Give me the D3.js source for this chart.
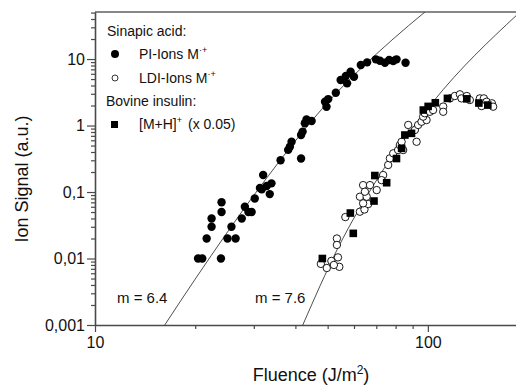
<!DOCTYPE html>
<html>
<head>
<meta charset="utf-8">
<script src="https://cdn.jsdelivr.net/npm/d3@7"></script>
<style>
  body { margin: 0; background: #fff; }
  text { font-family: "Liberation Sans", Arial, sans-serif; fill: #111; }
</style>
</head>
<body>
<script>
// Sinapic acid, PI-Ions M·+ (filled circles)
const piFluence = [20.4, 21.0, 23.9, 21.65, 22.4, 22.4, 24.0, 24.0, 25.0, 26.45,
  25.7, 27.6, 28.2, 28.9, 29.55, 30.2, 31.3, 32.0, 31.7, 32.8,
  33.9, 33.5, 36.1, 41.6, 38.05, 38.5, 38.96, 41.6, 42.05, 42.7,
  43.2, 44.75, 49.1, 50.2, 49.6, 52.9, 54.7, 56.7, 58.6, 60.0,
  57.2, 62.9, 65.7, 69.8, 71.8, 74.3, 76.5, 78.7, 80.5, 85.7];
const piSignal = [0.01, 0.01, 0.01, 0.02, 0.03, 0.04, 0.05, 0.07, 0.02, 0.02,
  0.03, 0.04, 0.06, 0.05, 0.05, 0.08, 0.115, 0.18, 0.11, 0.123,
  0.135, 0.093, 0.30, 0.32, 0.43, 0.48, 0.57, 0.72, 0.81, 1.08,
  1.23, 1.17, 2.28, 2.5, 1.92, 3.11, 4.83, 5.55, 6.44, 5.42,
  4.31, 8.12, 8.92, 9.9, 9.43, 8.8, 9.66, 9.33, 9.9, 8.8];

// Sinapic acid, LDI-Ions M·+ (open circles)
const ldiFluence = [47.7, 49.7, 51.3, 53.7, 54.2, 52.2, 53.3, 53.3, 56.5, 62.5,
  64.5, 66.2, 63.9, 62.5, 65.5, 63.9, 67.0, 70.2, 73.4, 72.6,
  76.0, 76.9, 78.7, 81.4, 84.3, 82.4, 83.4, 92.5, 87.3, 91.4,
  93.5, 95.7, 99.1, 96.8, 97.9, 101.4, 103.7, 111.2, 111.2, 116.5,
  120.5, 124.8, 126.2, 130.9, 133.7, 143.3, 147.3, 150.1, 145.0, 155.7,
  157.1, 64.7];
const ldiSignal = [0.0083, 0.0072, 0.0092, 0.0104, 0.0075, 0.008, 0.02, 0.016, 0.042, 0.0506,
  0.0546, 0.066, 0.0676, 0.085, 0.085, 0.127, 0.127, 0.107, 0.18, 0.151,
  0.255, 0.321, 0.382, 0.428, 0.428, 0.509, 0.57, 0.57, 1.02, 0.856,
  1.02, 1.14, 1.21, 1.36, 1.53, 1.61, 1.71, 1.93, 1.61, 2.56,
  2.78, 2.95, 2.56, 2.78, 2.42, 2.56, 2.56, 2.28, 1.96, 2.16,
  1.92, 0.101];

// Bovine insulin [M+H]+ x 0.05 (filled squares)
const insFluence = [48.2, 58.5, 59.7, 68.9, 69.3, 75.2, 80.5, 83.4, 85.3, 89.3,
  96.9, 100.2, 105.3, 114.5, 130.9, 142.3, 151.4];
const insSignal = [0.01, 0.0483, 0.0239, 0.0732, 0.177, 0.138, 0.319, 0.454, 0.72, 0.763,
  1.71, 1.94, 2.2, 2.56, 2.52, 2.18, 2.03];

// fit curves, points
const fitA = [[16.2, 0.001], [20, 0.0049], [31.3, 0.119], [50.8, 2.42], [78, 19.3], [98, 51]];
const fitB = [[42.1, 0.001], [53.7, 0.0144], [70.8, 0.1625], [103.5, 2.25], [185, 45.9]];
const fitLabels = ["m = 6.4", "m = 7.6"];

const yMajor = [0.001, 0.01, 0.1, 1, 10];
const yTickLabels = ["0,001", "0,01", "0,1", "1", "10"];
const xMajor = [10, 100];
const xTickLabels = ["10", "100"];

const width = 516, height = 385;
const pLeft = 95, pTop = 12, pBottom = 325, pRight = 516;

const svg = d3.select("body").append("svg")
    .attr("width", width)
    .attr("height", height);

const x = d3.scaleLog().domain([10, 184]).range([pLeft, pRight]);
const y = d3.scaleLog().domain([0.001, 51]).range([pBottom, pTop]);

// minor tick positions
const yMinor = [];
[0.001, 0.01, 0.1, 1, 10].forEach(dec => {
    for (let k = 2; k <= 9; k++) if (dec * k <= 51) yMinor.push(dec * k);
});
const xMinor = [20, 30, 40, 50, 60, 70, 80, 90];

// axes
const axisColor = "#4a4a4a";

svg.append("g")
    .attr("transform", `translate(${pLeft},0)`)
    .call(d3.axisLeft(y).tickValues(yMajor)
        .tickFormat((d, i) => yTickLabels[i])
        .tickSizeInner(8).tickSizeOuter(0).tickPadding(2));
svg.append("g")
    .attr("transform", `translate(${pLeft},0)`)
    .call(d3.axisLeft(y).tickValues(yMinor).tickFormat("").tickSize(4))
    .select(".domain").remove();

svg.append("g")
    .attr("transform", `translate(0,${pBottom})`)
    .call(d3.axisBottom(x).tickValues(xMajor)
        .tickFormat((d, i) => xTickLabels[i])
        .tickSizeInner(7).tickSizeOuter(0).tickPadding(5));
svg.append("g")
    .attr("transform", `translate(0,${pBottom})`)
    .call(d3.axisBottom(x).tickValues(xMinor).tickFormat("").tickSize(4))
    .select(".domain").remove();

svg.selectAll(".domain").attr("stroke", axisColor).attr("stroke-width", 1.6);
svg.selectAll(".tick line").attr("stroke", axisColor).attr("stroke-width", 1.2);
svg.selectAll(".tick text")
    .attr("font-size", 16)
    .attr("fill", "#111")
    .attr("font-family", "'Liberation Sans', Arial, sans-serif");

// top frame line
svg.append("line")
    .attr("x1", pLeft).attr("x2", pRight)
    .attr("y1", pTop).attr("y2", pTop)
    .attr("stroke", "#111")
    .attr("stroke-width", 1.2);

// axis titles
svg.append("text")
    .attr("transform", "translate(28,179) rotate(-90)")
    .attr("text-anchor", "middle")
    .attr("font-size", 18)
    .text("Ion Signal (a.u.)");

const xt = svg.append("text")
    .attr("x", 311).attr("y", 381)
    .attr("text-anchor", "middle")
    .attr("font-size", 18);
xt.append("tspan").text("Fluence (J/m");
xt.append("tspan").attr("font-size", 12).attr("dy", -7).text("2");
xt.append("tspan").attr("dy", 7).text(")");

// clip for fit lines
svg.append("clipPath").attr("id", "plot")
    .append("rect")
    .attr("x", pLeft).attr("y", pTop)
    .attr("width", pRight - pLeft).attr("height", pBottom - pTop);

const line = d3.line()
    .x(d => x(d[0]))
    .y(d => y(d[1]))
    .curve(d3.curveMonotoneX);

[fitA, fitB].forEach(f => {
    svg.append("path")
        .datum(f)
        .attr("clip-path", "url(#plot)")
        .attr("fill", "none")
        .attr("stroke", "#222")
        .attr("stroke-width", 0.8)
        .attr("d", line);
});

svg.append("text").attr("x", 117).attr("y", 303).attr("font-size", 15).text(fitLabels[0]);
svg.append("text").attr("x", 255).attr("y", 303).attr("font-size", 15).text(fitLabels[1]);

// data
svg.append("g").selectAll("circle")
    .data(d3.zip(piFluence, piSignal))
    .enter().append("circle")
    .attr("cx", d => x(d[0]))
    .attr("cy", d => y(d[1]))
    .attr("r", 4.2)
    .attr("fill", "#000");

svg.append("g").selectAll("circle")
    .data(d3.zip(ldiFluence, ldiSignal))
    .enter().append("circle")
    .attr("cx", d => x(d[0]))
    .attr("cy", d => y(d[1]))
    .attr("r", 3.7)
    .attr("fill", "#fff")
    .attr("stroke", "#000")
    .attr("stroke-width", 0.9);

svg.append("g").selectAll("rect")
    .data(d3.zip(insFluence, insSignal))
    .enter().append("rect")
    .attr("x", d => x(d[0]) - 3.8)
    .attr("y", d => y(d[1]) - 3.8)
    .attr("width", 7.6)
    .attr("height", 7.6)
    .attr("fill", "#000");

// legend
const lg = svg.append("g").attr("font-size", 14);
lg.append("text").attr("x", 107).attr("y", 36).text("Sinapic acid:");
lg.append("circle").attr("cx", 115).attr("cy", 54).attr("r", 4).attr("fill", "#000");
const t1 = lg.append("text").attr("x", 139).attr("y", 59);
t1.append("tspan").text("PI-Ions M");
t1.append("tspan").attr("font-size", 9).attr("dy", -6).text("·+");
lg.append("circle").attr("cx", 115).attr("cy", 78).attr("r", 3).attr("fill", "#fff")
    .attr("stroke", "#000").attr("stroke-width", 0.8);
const t2 = lg.append("text").attr("x", 139).attr("y", 83);
t2.append("tspan").text("LDI-Ions M");
t2.append("tspan").attr("font-size", 9).attr("dy", -6).text("·+");
lg.append("text").attr("x", 106).attr("y", 106).text("Bovine insulin:");
lg.append("rect").attr("x", 111).attr("y", 121).attr("width", 7).attr("height", 7).attr("fill", "#000");
const t3 = lg.append("text").attr("x", 139).attr("y", 129);
t3.append("tspan").text("[M+H]");
t3.append("tspan").attr("font-size", 9).attr("dy", -6).text("+");
t3.append("tspan").attr("dy", 6).attr("dx", 6).text("(x 0.05)");
</script>
</body>
</html>
